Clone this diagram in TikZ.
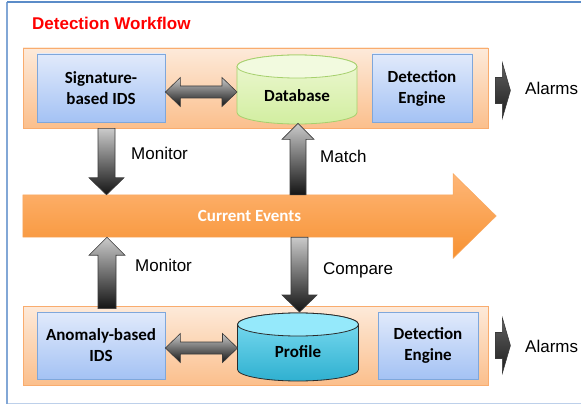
\documentclass[tikz,border=0pt]{standalone}
\usepackage{fontspec}
\setmainfont{Liberation Sans}
\newfontfamily\calib{Carlito}
\usetikzlibrary{calc}

\definecolor{frameblue}{HTML}{5B8CC8}
\definecolor{framelight}{HTML}{BDD0EA}
\definecolor{bandtop}{HTML}{FDEADA}
\definecolor{bandbot}{HTML}{FBBF8C}
\definecolor{bandline}{HTML}{F9AC6E}
\definecolor{boxtop}{HTML}{E1EAFB}
\definecolor{boxbot}{HTML}{A4C2F4}
\definecolor{boxline}{HTML}{7FA7DB}
\definecolor{dbcap}{HTML}{F2FADF}
\definecolor{dbtop}{HTML}{EEF8D5}
\definecolor{dbbot}{HTML}{D2EEA0}
\definecolor{dbline}{HTML}{A6D06D}
\definecolor{prcap}{HTML}{95E9FB}
\definecolor{prtop}{HTML}{80DEF3}
\definecolor{prbot}{HTML}{2FB0D0}
\definecolor{prline}{HTML}{2B2B2B}
\definecolor{evtop}{HTML}{FEB677}
\definecolor{evbot}{HTML}{F79232}
\definecolor{evline}{HTML}{F8A860}
\definecolor{arrtop}{HTML}{CACACA}
\definecolor{arrbot}{HTML}{141414}
\definecolor{arrline}{HTML}{3A3A3A}
\definecolor{alrtop}{HTML}{606060}
\definecolor{alrmid}{HTML}{9C9C9C}
\definecolor{alrbot}{HTML}{1E1E1E}

% block arrow: style, tail, tip, half shaft, half head, head length
\newcommand\blockarrow[6]{%
  \path coordinate (ba-t) at (#2) coordinate (ba-p) at (#3);
  \path coordinate (ba-h) at ($(ba-p)!#6!(ba-t)$);
  \shade[#1] ($(ba-t)!#4!90:(ba-p)$) -- ($(ba-h)!#4!90:(ba-p)$)
    -- ($(ba-h)!#5!90:(ba-p)$) -- (ba-p) -- ($(ba-h)!#5!-90:(ba-p)$)
    -- ($(ba-h)!#4!-90:(ba-p)$) -- ($(ba-t)!#4!-90:(ba-p)$) -- cycle;
}
% two-headed block arrow: style, end A, end B, half shaft, half head, head length
\newcommand\dblarrow[6]{%
  \path coordinate (da-a) at (#2) coordinate (da-b) at (#3);
  \path coordinate (da-1) at ($(da-a)!#6!(da-b)$)
        coordinate (da-2) at ($(da-b)!#6!(da-a)$);
  \shade[#1] (da-a) -- ($(da-1)!#5!90:(da-b)$) -- ($(da-1)!#4!90:(da-b)$)
    -- ($(da-2)!#4!-90:(da-a)$) -- ($(da-2)!#5!-90:(da-a)$) -- (da-b)
    -- ($(da-2)!#5!90:(da-a)$) -- ($(da-2)!#4!90:(da-a)$)
    -- ($(da-1)!#4!-90:(da-b)$) -- ($(da-1)!#5!-90:(da-b)$) -- cycle;
}

\tikzset{
  band/.style={draw=bandline, line width=0.8pt, top color=bandtop, bottom color=bandbot,
    minimum width=465pt, minimum height=80pt, inner sep=0pt},
  idsbox/.style={draw=boxline, line width=0.8pt, top color=boxtop, bottom color=boxbot,
    minimum height=68pt, align=center, inner sep=0pt,
    font=\calib\bfseries\fontsize{17}{21}\selectfont},
  cyltext/.style={inner sep=0pt, font=\calib\bfseries\fontsize{17}{21}\selectfont},
  grayarrow/.style={draw=arrline, line width=0.6pt, top color=arrtop, bottom color=arrbot},
  alarmarrow/.style={draw=arrline, line width=0.6pt, top color=alrtop,
    middle color=alrmid, bottom color=alrbot},
  lbl/.style={anchor=base west, inner sep=0pt, font=\fontsize{17}{21}\selectfont},
}

\begin{document}
\begin{tikzpicture}[x=1pt, y=1pt]
\useasboundingbox (0,0) rectangle (581,405);

% outer frame
\draw[framelight, line width=1.2pt] (7,1.5) -- (581,1.5);
\draw[frameblue!60!framelight, line width=1.2pt] (7,403) -- (7,1.5);
\draw[frameblue, line width=1.2pt] (7,403) -- (581,403);

% title
\node[anchor=base west, inner sep=0pt, text=red, font=\bfseries\fontsize{17}{21}\selectfont]
  (title) at (32,375) {Detection Workflow};

% the two bands
\node[band] (band1) at (255.5,317) {};
\node[band, minimum height=79pt] (band2) at (255.5,59.5) {};

% current events arrow
\node[minimum width=430pt, minimum height=42pt, inner sep=0pt] (events) at (238,189) {};
\shade[draw=evline, line width=0.5pt, top color=evtop, bottom color=evbot]
  (events.south west) -- (events.south east) -- ($(events.south east)+(0,-21)$)
  -- ($(events.east)+(43,0)$) -- ($(events.north east)+(0,21)$)
  -- (events.north east) -- (events.north west) -- cycle;
\node[inner sep=0pt, text=white, font=\calib\bfseries\fontsize{17}{21}\selectfont]
  (evlabel) at (249.5,189) {Current Events};

% top row
\node[idsbox, minimum width=128pt] (sig) at (101,317) {Signature-\\based IDS};
\node[idsbox, minimum width=100pt] (eng1) at (422,317) {Detection\\Engine};
\node[cyltext] (db) at (297,309) {\phantom{Database}};
\shade[draw=dbline, line width=0.8pt, top color=dbtop, bottom color=dbbot]
  ($(db.center)+(-60,29.5)$) -- ($(db.center)+(-60,-16.5)$)
  arc[start angle=180, end angle=360, x radius=60, y radius=11.5]
  -- ($(db.center)+(60,29.5)$)
  arc[start angle=0, end angle=180, x radius=60, y radius=11.5] -- cycle;
\filldraw[draw=dbline, line width=0.8pt, fill=dbcap]
  ($(db.center)+(0,29.5)$) ellipse[x radius=60, y radius=11.5];
\node[cyltext] at (db.center) {Database};

% bottom row
\node[idsbox, minimum width=128pt, minimum height=67pt] (anom) at (101,59.5) {Anomaly-based\\IDS};
\node[idsbox, minimum width=100pt, minimum height=67pt] (eng2) at (428,59.5) {Detection\\Engine};
\node[cyltext] (prof) at (298,53) {\phantom{Profile}};
\shade[draw=prline, line width=0.8pt, top color=prtop, bottom color=prbot]
  ($(prof.center)+(-60.5,27.5)$) -- ($(prof.center)+(-60.5,-17.5)$)
  arc[start angle=180, end angle=360, x radius=60.5, y radius=11.5]
  -- ($(prof.center)+(60.5,27.5)$)
  arc[start angle=0, end angle=180, x radius=60.5, y radius=11.5] -- cycle;
\filldraw[draw=prline, line width=0.8pt, fill=prcap]
  ($(prof.center)+(0,27.5)$) ellipse[x radius=60.5, y radius=11.5];
\node[cyltext] at (prof.center) {Profile};

% links between the IDS boxes and the stores
\dblarrow{grayarrow}{$(sig.east)+(0,-4)$}{$(db.center)+(-60,4)$}{6pt}{14.5pt}{15pt}
\dblarrow{grayarrow}{$(anom.east)+(0,-2.5)$}{$(prof.center)+(-60.5,4)$}{6pt}{14.5pt}{15pt}

% vertical flows
\blockarrow{grayarrow}{$(sig.south |- band1.south)+(5.5,0)$}{$(sig.south |- events.north)+(5.5,0)$}{8.5pt}{17.5pt}{17pt}
\blockarrow{grayarrow}{$(db.center |- events.north)+(1,0)$}{$(db.center |- band1.south)+(1,5)$}{8pt}{16pt}{16pt}
\blockarrow{grayarrow}{$(anom.north)+(6,3)$}{$(anom.north |- events.south)+(6,0)$}{9pt}{18pt}{18pt}
\blockarrow{grayarrow}{$(prof.center |- events.south)+(1.5,0)$}{$(prof.center)+(1.5,40)$}{8.5pt}{17.5pt}{17pt}

% alarm outputs
\blockarrow{alarmarrow}{$(band1.east)+(7,-2.5)$}{$(band1.east)+(22,-2.5)$}{13pt}{27.5pt}{8pt}
\blockarrow{alarmarrow}{$(band2.east)+(7,0)$}{$(band2.east)+(22,0)$}{13pt}{27.5pt}{8pt}

% labels
\node[lbl] (mon1) at (131,245) {Monitor};
\node[lbl] (match) at (320,242) {Match};
\node[lbl] (mon2) at (135,134) {Monitor};
\node[lbl] (comp) at (323,131) {Compare};
\node[lbl] (alarm1) at (525,310) {Alarms};
\node[lbl] (alarm2) at (525,53) {Alarms};
\end{tikzpicture}
\end{document}
